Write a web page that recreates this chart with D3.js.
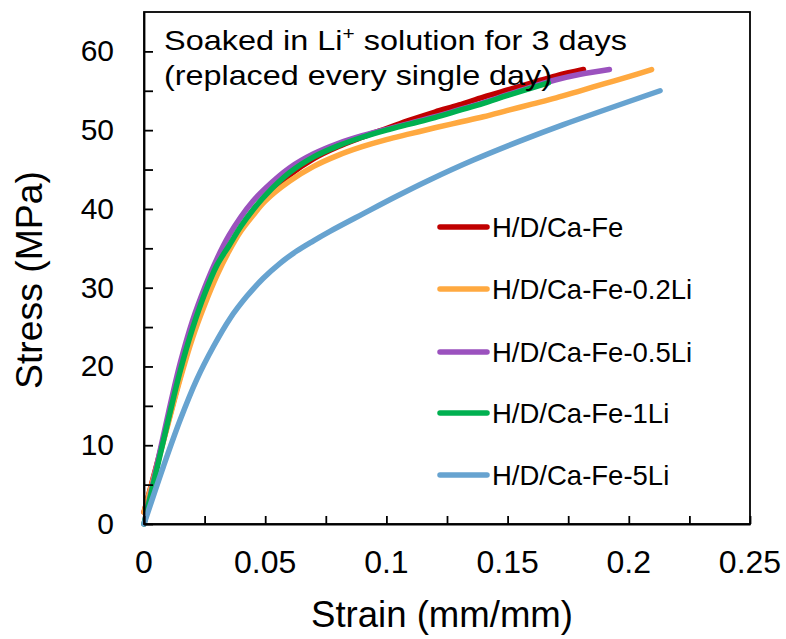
<!DOCTYPE html>
<html>
<head>
<meta charset="utf-8">
<script src="https://cdn.jsdelivr.net/npm/d3@7"></script>
<style>
  html, body { margin: 0; padding: 0; background: #fff; }
  svg { display: block; font-family: Arial, "Liberation Sans", sans-serif; }
</style>
</head>
<body>
<svg id="chart" width="786" height="639"></svg>
<script>
// ---------- data ----------
const seriesNames = ["H/D/Ca-Fe", "H/D/Ca-Fe-0.2Li", "H/D/Ca-Fe-0.5Li", "H/D/Ca-Fe-1Li", "H/D/Ca-Fe-5Li"];
const seriesColors = ["#C00000", "#FFA940", "#9B52BE", "#00B050", "#67A3D0"];

const curveFe = [[0,1.5],[0.005,7.2],[0.01,13],[0.015,18.8],[0.02,24],[0.025,28.3],[0.03,32],[0.035,35.1],[0.04,37.6],[0.045,39.8],[0.05,41.5],[0.06,44.3],[0.07,46.4],[0.08,47.9],[0.09,49.1],[0.1,50.2],[0.11,51.3],[0.12,52.3],[0.13,53.2],[0.14,54.2],[0.15,55.1],[0.16,56],[0.17,56.9],[0.1813,57.7]];
const curve02Li = [[0,1.5],[0.005,7],[0.01,12.8],[0.015,18.5],[0.02,23.6],[0.025,27.8],[0.03,31.5],[0.035,34.6],[0.04,37.2],[0.045,39.2],[0.05,41],[0.06,43.5],[0.07,45.4],[0.08,46.8],[0.09,47.9],[0.1,48.8],[0.11,49.55],[0.12,50.3],[0.13,51.0],[0.14,51.7],[0.15,52.5],[0.16,53.3],[0.17,54.1],[0.18,55.0],[0.19,55.9],[0.2,56.8],[0.2094,57.7]];
const curve05Li = [[0,0],[0.005,7],[0.01,14],[0.015,20.5],[0.02,25.8],[0.025,30],[0.03,33.6],[0.035,36.6],[0.04,39],[0.045,41],[0.05,42.6],[0.06,45.2],[0.07,47],[0.08,48.3],[0.09,49.3],[0.1,50.1],[0.11,50.9],[0.12,51.7],[0.13,52.6],[0.14,53.5],[0.15,54.5],[0.16,55.5],[0.17,56.4],[0.18,57.1],[0.192,57.7]];
const curve1Li = [[0,0],[0.005,6.6],[0.01,13.2],[0.015,19.5],[0.02,24.8],[0.025,29.2],[0.03,32.8],[0.035,35.3],[0.04,37.8],[0.045,39.9],[0.05,41.7],[0.06,44.6],[0.07,46.6],[0.08,48],[0.09,49.1],[0.1,50],[0.11,50.8],[0.12,51.6],[0.13,52.5],[0.14,53.4],[0.15,54.4],[0.1668,56.0]];
const curve5Li = [[0,0],[0.008,7.3],[0.0149,13.2],[0.0217,18.3],[0.0286,22.5],[0.0355,26.1],[0.0424,28.9],[0.0492,31.2],[0.0561,33.1],[0.063,34.65],[0.0699,35.95],[0.0767,37.15],[0.0905,39.4],[0.1042,41.6],[0.118,43.7],[0.1359,46.2],[0.155,48.6],[0.173,50.7],[0.2129,55.0]];
const seriesData = [curveFe, curve02Li, curve05Li, curve1Li, curve5Li];

const xMajorTicks = [0, 0.05, 0.1, 0.15, 0.2, 0.25];
const xMinorTicks = [0.025, 0.075, 0.125, 0.175, 0.225];
const yMajorTicks = [0, 10, 20, 30, 40, 50, 60];
const yMinorTicks = [5, 15, 25, 35, 45, 55];
const xTitle = "Strain (mm/mm)";
const yTitle = "Stress (MPa)";
const noteLine1 = ["Soaked in Li", "+", " solution for 3 days"];
const noteLine2 = "(replaced every single day)";

// ---------- layout ----------
const L = 144, R = 750, T = 12, B = 524;
const svg = d3.select("#chart");
const x = d3.scaleLinear().domain([0, 0.25]).range([L, R]);
const y = d3.scaleLinear().domain([0, 65]).range([B, T]);

// curves
const line = d3.line().x(d => x(d[0])).y(d => y(d[1])).curve(d3.curveCatmullRom.alpha(0.5));
const plot = svg.append("g");
seriesData.forEach((s, i) => {
  plot.append("path").datum(s)
    .attr("d", line)
    .attr("fill", "none")
    .attr("stroke", seriesColors[i])
    .attr("stroke-width", 5.5)
    .attr("stroke-linecap", "round")
    .attr("stroke-linejoin", "round");
});

// frame
svg.append("rect").attr("x", L).attr("y", T).attr("width", R - L).attr("height", B - T)
  .attr("fill", "none").attr("stroke", "#000").attr("stroke-width", 1.8);

// axes (ticks inward)
const xAxis = svg.append("g").attr("transform", `translate(0,${B})`)
  .call(d3.axisBottom(x).tickValues(xMajorTicks.concat(xMinorTicks)).tickSizeInner(-8).tickSizeOuter(0).tickFormat(""));
const yAxis = svg.append("g").attr("transform", `translate(${L},0)`)
  .call(d3.axisLeft(y).tickValues(yMajorTicks.concat(yMinorTicks)).tickSizeInner(-9).tickSizeOuter(0).tickFormat(""));
[xAxis, yAxis].forEach(g => {
  g.select(".domain").attr("stroke", "#000").attr("stroke-width", 1.8);
  g.selectAll(".tick line").attr("stroke", "#000").attr("stroke-width", 1.8);
});

// tick labels
svg.append("g").selectAll("text").data(xMajorTicks).join("text")
  .attr("x", d => x(d)).attr("y", 573)
  .attr("text-anchor", "middle").attr("font-size", 32).attr("fill", "#000")
  .text(d => d3.format("")(d));
svg.append("g").selectAll("text").data(yMajorTicks).join("text")
  .attr("x", 114).attr("y", d => y(d) + 10)
  .attr("text-anchor", "end").attr("font-size", 30).attr("fill", "#000")
  .text(d => d);

// axis titles
svg.append("text").attr("x", 442).attr("y", 627).attr("text-anchor", "middle")
  .attr("font-size", 36).attr("fill", "#000")
  .attr("textLength", 262).attr("lengthAdjust", "spacingAndGlyphs").text(xTitle);
svg.append("text").attr("transform", "translate(42,280) rotate(-90)").attr("text-anchor", "middle")
  .attr("font-size", 36).attr("fill", "#000")
  .attr("textLength", 218).attr("lengthAdjust", "spacingAndGlyphs").text(yTitle);

// annotation
const n1 = svg.append("text").attr("x", 164).attr("y", 50).attr("font-size", 28).attr("fill", "#000")
  .attr("textLength", 463).attr("lengthAdjust", "spacingAndGlyphs");
n1.append("tspan").text(noteLine1[0]);
n1.append("tspan").attr("font-size", 18).attr("dy", -10).text(noteLine1[1]);
n1.append("tspan").attr("dy", 10).text(noteLine1[2]);
svg.append("text").attr("x", 164).attr("y", 85).attr("font-size", 28).attr("fill", "#000")
  .attr("textLength", 388).attr("lengthAdjust", "spacingAndGlyphs").text(noteLine2);

// legend
const legendY = [227, 289, 352, 413, 475];
const lg = svg.append("g");
seriesNames.forEach((name, i) => {
  lg.append("line").attr("x1", 440).attr("x2", 487).attr("y1", legendY[i]).attr("y2", legendY[i])
    .attr("stroke", seriesColors[i]).attr("stroke-width", 5.5).attr("stroke-linecap", "round");
  lg.append("text").attr("x", 492).attr("y", legendY[i] + 9.5).attr("font-size", 27.5).attr("fill", "#000").text(name);
});
</script>
</body>
</html>
